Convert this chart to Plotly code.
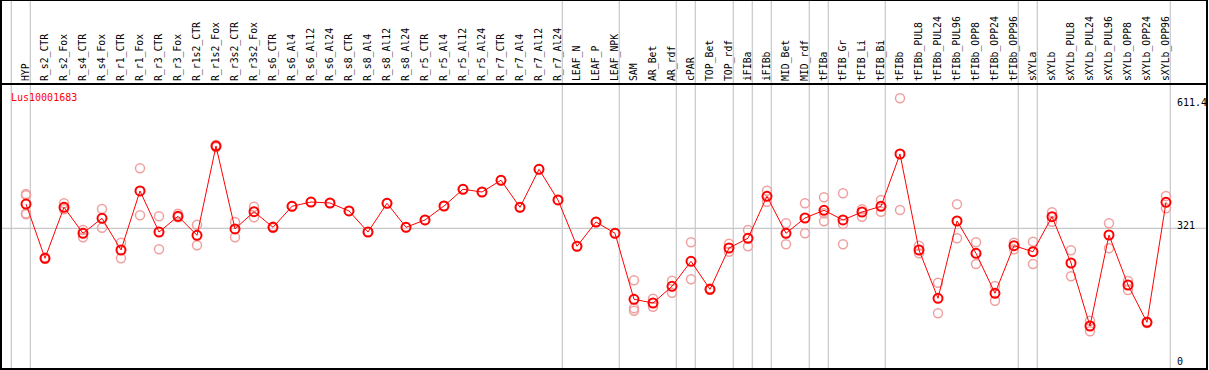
import plotly.graph_objects as go

categories = [
    "HYP", "R_s2_CTR", "R_s2_Fox", "R_s4_CTR", "R_s4_Fox", "R_r1_CTR", "R_r1_Fox",
    "R_r3_CTR", "R_r3_Fox", "R_r1s2_CTR", "R_r1s2_Fox", "R_r3s2_CTR", "R_r3s2_Fox",
    "R_s6_CTR", "R_s6_Al4", "R_s6_Al12", "R_s6_Al24", "R_s8_CTR", "R_s8_Al4",
    "R_s8_Al12", "R_s8_Al24", "R_r5_CTR", "R_r5_Al4", "R_r5_Al12", "R_r5_Al24",
    "R_r7_CTR", "R_r7_Al4", "R_r7_Al12", "R_r7_Al24", "LEAF_N", "LEAF_P", "LEAF_NPK",
    "SAM", "AR_Bet", "AR_rdf", "cPAR", "TOP_Bet", "TOP_rdf", "iFIBa", "iFIBb",
    "MID_Bet", "MID_rdf", "tFIBa", "tFIB_Gr", "tFIB_Li", "tFIB_Bi", "tFIBb",
    "tFIBb_PUL8", "tFIBb_PUL24", "tFIBb_PUL96", "tFIBb_OPP8", "tFIBb_OPP24", "tFIBb_OPP96",
    "sXYLa", "sXYLb", "sXYLb_PUL8", "sXYLb_PUL24", "sXYLb_PUL96", "sXYLb_OPP8",
    "sXYLb_OPP24", "sXYLb_OPP96",
]

mean_values = [
    378.2, 250.4, 370.5, 309.2, 344.6, 269.9, 408.9, 312.3, 349.3, 304.5,
    514.8, 319.4, 360.1, 323.4, 372.8, 382.9, 380.6, 361.8, 312.3, 379.9,
    323.4, 340.6, 373.5, 412.9, 406.5, 434.1, 370.5, 460.0, 387.7, 278.6,
    335.8, 309.2, 153.8, 145.1, 184.4, 243.3, 177.3, 274.6, 297.5, 396.4,
    309.2, 345.3, 363.4, 340.6, 359.4, 372.8, 496.0, 269.9, 156.1, 338.2,
    262.1, 167.9, 280.0, 265.9, 348.3, 239.3, 90.9, 305.2, 187.5, 99.6,
    382.2,
]

replicates = [
    [401.8, 398.7, 356.0, 354.0], [252.0, 249.0], [379.9, 365.8], [317.0, 299.8],
    [366.5, 322.4], [287.1, 250.4], [462.3, 351.6], [349.3, 271.5], [355.4, 346.9],
    [329.5, 281.0], [517.0, 512.0], [335.8, 299.8], [371.9, 346.9], [325.0, 322.0],
    [372.8], [382.9], [380.6], [361.8], [312.3], [379.9], [323.4], [340.6], [373.5],
    [412.9], [406.5], [434.1], [370.5], [460.0], [387.7], [278.6], [335.8], [309.2],
    [198.5, 132.6, 126.9], [155.2, 136.4], [197.6, 169.3], [288.0, 200.9],
    [179.0, 176.0], [284.7, 265.9], [317.0, 278.6], [409.6, 383.7], [332.8, 283.3],
    [379.9, 309.2], [394.0, 356.3, 337.5], [403.4, 331.1, 283.3], [365.8, 348.3],
    [387.7, 360.1], [627.2, 364.1], [280.0, 262.1], [192.9, 120.8], [377.5, 297.5],
    [288.0, 236.9], [185.1, 150.5], [287.1, 271.5], [289.4, 236.9], [358.7, 336.6],
    [269.2, 208.0], [103.4, 78.4], [332.8, 273.9], [196.9, 175.7], [101.0, 98.0],
    [397.1, 368.1],
]

# indices of the last category of each group (separator drawn just after it)
group_ends = [-1, 0, 28, 31, 34, 35, 37, 38, 39, 41, 42, 45, 52, 53, 60]

y_ticks = [0, 321, 611.4]
y_tick_text = ["0", "321", "611.4"]
gene_id = "Lus10001683"

W, H = 1209, 370
M_L, M_R, M_T, M_B = 1, 2, 85, 1
plot_w = W - M_L - M_R
plot_h = H - M_T - M_B
FONT = "DejaVu Sans Mono"

rep_x, rep_y = [], []
for cat, reps in zip(categories, replicates):
    for v in reps:
        rep_x.append(cat)
        rep_y.append(v)

fig = go.Figure()
fig.add_trace(go.Scatter(
    x=rep_x, y=rep_y, mode="markers",
    marker=dict(symbol="circle-open", size=9, color="#f0a0a0", line=dict(width=1.5, color="#f0a0a0")),
    showlegend=False, hoverinfo="skip",
))
fig.add_trace(go.Scatter(
    x=categories, y=mean_values, mode="lines+markers",
    line=dict(color="#ff0000", width=1),
    marker=dict(symbol="circle-open", size=9, color="#ff0000", line=dict(width=2, color="#ff0000")),
    showlegend=False,
))

shapes = []
for g in group_ends:
    shapes.append(dict(type="line", xref="x", yref="paper", x0=g + 0.226, x1=g + 0.226,
                       y0=0, y1=(H - M_B) / plot_h, line=dict(color="#c8c8c8", width=1.2), layer="below"))
shapes.append(dict(type="line", xref="paper", yref="y", x0=0, x1=1, y0=321, y1=321,
                   line=dict(color="#c8c8c8", width=1.2), layer="below"))
# outer frame
shapes.append(dict(type="rect", xref="paper", yref="paper", x0=0, x1=1, y0=0,
                   y1=(H - M_B) / plot_h, line=dict(color="black", width=2)))

fig.update_layout(
    width=W, height=H,
    margin=dict(l=M_L, r=M_R, t=M_T, b=M_B, autoexpand=False),
    paper_bgcolor="white", plot_bgcolor="white",
    font=dict(family=FONT, size=10, color="black"),
    shapes=shapes,
    annotations=[dict(text=gene_id, xref="paper", yref="paper", x=(9 - M_L) / plot_w,
                      y=(H - M_B - 97.3) / plot_h, xanchor="left", yanchor="middle",
                      showarrow=False, font=dict(family=FONT, size=10, color="#ff0000"))],
)
fig.update_xaxes(
    type="category", categoryorder="array", categoryarray=categories, automargin=False,
    side="top", tickangle=-90, range=[-1.316, 62.158], showgrid=False, zeroline=False,
    showline=True, linecolor="black", linewidth=2, mirror=True, ticks="",
    tickfont=dict(family=FONT, size=9.8),
)
fig.update_yaxes(
    range=[-10.36, 658.5], showgrid=False, zeroline=False, automargin=False,
    tickvals=y_ticks, ticktext=y_tick_text, side="right", anchor="free",
    position=(1176 - M_L) / plot_w, ticks="", showline=False, ticklabelshift=-3,
    tickfont=dict(family=FONT, size=10),
)
fig.write_html(
    "out.html",
    config={"displayModeBar": False},
    post_script="document.body.style.margin='0';document.body.style.overflow='hidden';",
)
